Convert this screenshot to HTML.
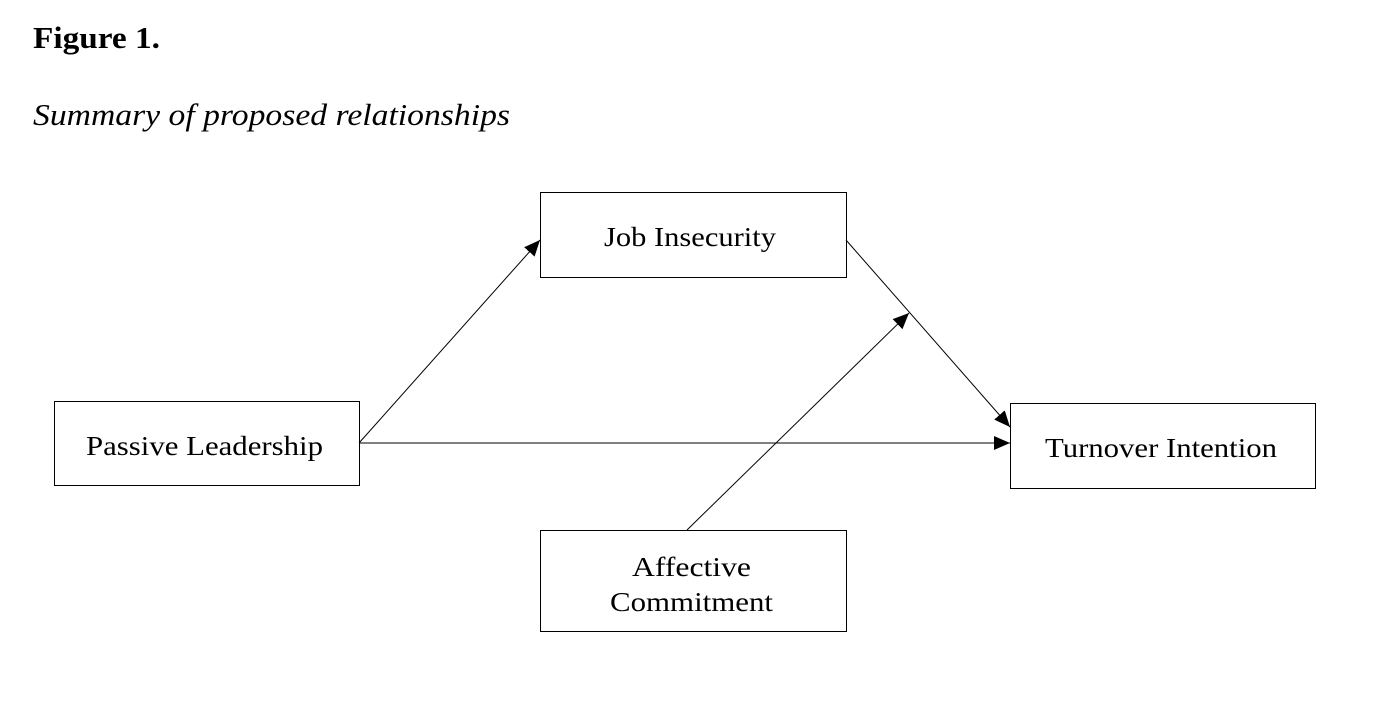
<!DOCTYPE html>
<html><head><meta charset="utf-8"><style>
html,body{margin:0;padding:0;background:#fff;}
body{width:1374px;height:722px;position:relative;overflow:hidden;font-family:"Liberation Serif",serif;color:#000;}
</style></head><body>
<svg width="1374" height="722" style="position:absolute;left:0;top:0" font-family="Liberation Serif, serif" font-size="27">
<defs><marker id="b" markerWidth="16" markerHeight="14" refX="16" refY="7" orient="auto" markerUnits="userSpaceOnUse"><path d="M0,0 L16,7 L0,14z" fill="#000"/></marker></defs>
<text x="33" y="48" font-size="31" font-weight="bold" textLength="127" lengthAdjust="spacingAndGlyphs">Figure 1.</text>
<text x="33" y="125" font-size="31" font-style="italic" textLength="477" lengthAdjust="spacingAndGlyphs">Summary of proposed relationships</text>
<g fill="none" stroke="#000" stroke-width="1">
<rect x="540.5" y="192.5" width="306" height="85"/>
<rect x="54.5" y="401.5" width="305" height="84"/>
<rect x="1010.5" y="403.5" width="305" height="85"/>
<rect x="540.5" y="530.5" width="306" height="101"/>
<line x1="359" y1="443" x2="540" y2="240" marker-end="url(#b)"/>
<line x1="846" y1="240" x2="1010" y2="427" marker-end="url(#b)"/>
<line x1="359" y1="443" x2="1010" y2="443" marker-end="url(#b)"/>
<line x1="687" y1="530" x2="909" y2="313" marker-end="url(#b)"/>
</g>
<g fill="#000" lengthAdjust="spacingAndGlyphs">
<text x="604" y="246" textLength="172" lengthAdjust="spacingAndGlyphs">Job Insecurity</text>
<text x="86" y="455" textLength="237" lengthAdjust="spacingAndGlyphs">Passive Leadership</text>
<text x="1045" y="457" textLength="232" lengthAdjust="spacingAndGlyphs">Turnover Intention</text>
<text x="632" y="576" textLength="119" lengthAdjust="spacingAndGlyphs">Affective</text>
<text x="610" y="611" textLength="163" lengthAdjust="spacingAndGlyphs">Commitment</text>
</g>
</svg>
</body></html>
